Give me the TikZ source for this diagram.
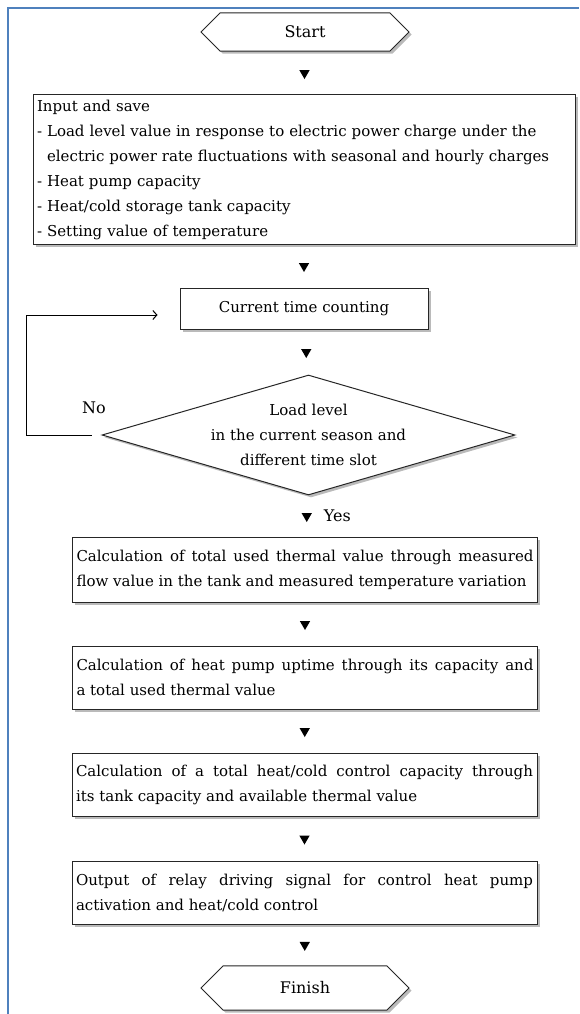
\documentclass[tikz,border=0pt]{standalone}
\usepackage{fontspec}
\setmainfont{DejaVu Serif}
\usetikzlibrary{positioning,calc,shapes.geometric,shapes.misc,shadows,arrows.meta}
\definecolor{frameblue}{HTML}{4F81BD}
\tolerance=10000
\hbadness=10000

\begin{document}
\begin{tikzpicture}[x=1pt,y=-1pt,
		box/.style={draw=black!85, line width=1pt, fill=white, inner sep=4pt,
			drop shadow={shadow xshift=2.5pt, shadow yshift=-2.5pt, fill=black!45, opacity=.6},
			font=\fontsize{15}{25}\selectfont},
		calcbox/.style={box, text width=457pt, align=justify, minimum height=63pt},
		term/.style={box, chamfered rectangle, minimum width=208pt, font=\fontsize{16}{18}\selectfont},
		tri/.style={regular polygon, regular polygon sides=3, shape border rotate=180, fill=black, inner sep=0pt, minimum size=12pt},
		backline/.style={line width=1pt, -{Straight Barb[length=4pt,width=9pt]}},
		pageframe/.style={draw=frameblue, line width=2pt}]
		\useasboundingbox (0,0) rectangle (579,1014);
		\draw[pageframe] (8,1014) -- (8,8) -- (579,8);
		\node[term, chamfered rectangle xsep=45pt, chamfered rectangle ysep=9pt, minimum height=34pt] (start) at (305,32) {Start};
		\node[box, text width=534pt, align=left, minimum height=149pt] (input) at (304,169.5) {Input and save\\
			- Load level value in response to electric power charge under the\\
			\hphantom{-}\ electric power rate fluctuations with seasonal and hourly charges\\
			- Heat pump capacity\\
			- Heat/cold storage tank capacity\\
			- Setting value of temperature};
		\node[box, minimum width=248pt, minimum height=41pt] (cur) at (304,308.5) {Current time counting};
		\node[box, diamond, minimum width=413pt, minimum height=120pt] (dia) at (308.5,435) {};
		\node[align=center, font=\fontsize{15}{25}\selectfont] (diatxt) at (dia.center) {Load level\\in the current season and\\different time slot};
		\node[calcbox, minimum height=65pt] (calc1) at (305,569.5) {Calculation of total used thermal value through measured\linebreak flow value in the tank and measured temperature variation};
		\node[calcbox] (calc2) at (305,677.5) {Calculation of heat pump uptime through its capacity and\linebreak a total used thermal value};
		\node[calcbox] (calc3) at (304.5,784.5) {Calculation of a total heat/cold control capacity through\linebreak its tank capacity and available thermal value};
		\node[calcbox] (relay) at (304.5,892.5) {Output of relay driving signal for control heat pump\linebreak activation and heat/cold control};
		\node[term, chamfered rectangle xsep=48pt, chamfered rectangle ysep=12pt, minimum height=40pt] (finish) at (305,988) {Finish};
		\foreach \a/\b [count=\i] in {start/input, input/cur, cur/dia, dia/calc1, calc1/calc2, calc2/calc3, calc3/relay, relay/finish} {
			\node[tri] (tri\i) at ($(\a.south)!.5!(\b.north)$) {};
		};
		\node[right=10pt of tri4, font=\fontsize{16}{18}\selectfont] (yes) {Yes};
		\node[font=\fontsize{16}{18}\selectfont] (no) at (94,408) {No};
		\draw[backline] ([xshift=-10pt]dia.west) -- ++(-65,0) |- ([shift={(-22,6.5)}]cur.west);
	\end{tikzpicture}
\end{document}
